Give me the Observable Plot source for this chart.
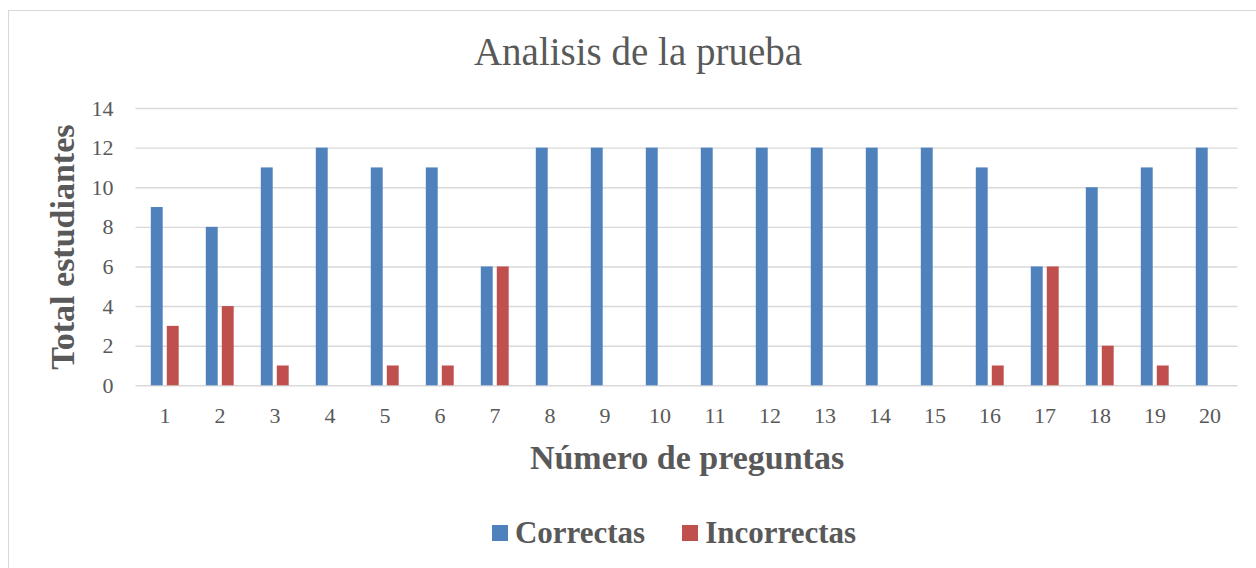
<!DOCTYPE html>
<html>
<head>
<meta charset="utf-8">
<script src="https://cdn.jsdelivr.net/npm/d3@7"></script>
<script src="https://cdn.jsdelivr.net/npm/@observablehq/plot@0.6"></script>
<style>
  html, body { margin: 0; padding: 0; background: #fff; }
  body { width: 1256px; height: 568px; overflow: hidden; position: relative; font-family: "Liberation Serif", serif; color: #595959; }
  #frame { position: absolute; left: 8px; top: 10px; width: 1300px; height: 600px; border: 1px solid #d9d9d9; box-sizing: border-box; pointer-events: none; }
  #title { box-sizing: border-box; height: 90px; padding-top: 32px; width: 1276px; text-align: center; font-size: 39px; line-height: 39px; white-space: nowrap; }
  #chart { height: 390px; }
  #chart svg { display: block; }
  #legend { margin-top: 38px; height: 30px; width: 1348px; display: flex; justify-content: center; align-items: center; font-weight: bold; font-size: 31px; line-height: 30px; white-space: nowrap; }
  .sw { width: 16px; height: 16px; display: inline-block; margin-right: 7px; }
  .item { display: flex; align-items: center; }
  .item + .item { margin-left: 37px; }
</style>
</head>
<body>
<div id="frame"></div>
<div id="title">Analisis de la prueba</div>
<div id="chart"></div>
<div id="legend"></div>
<script>
// ---- data ----
const preguntas = ["1","2","3","4","5","6","7","8","9","10","11","12","13","14","15","16","17","18","19","20"];
const correctas = [9, 8, 11, 12, 11, 11, 6, 12, 12, 12, 12, 12, 12, 12, 12, 11, 6, 10, 11, 12];
const incorrectas = [3, 4, 1, 0, 1, 1, 6, 0, 0, 0, 0, 0, 0, 0, 0, 1, 6, 2, 1, 0];
const yTicks = [0, 2, 4, 6, 8, 10, 12, 14];
const series = ["Correctas", "Incorrectas"];
const colors = ["#4f81bd", "#c0504d"];
const xLabel = "Número de preguntas";
const yLabel = "Total estudiantes";

const font = "Liberation Serif";

const plot = Plot.plot({
  width: 1256,
  height: 390,
  marginTop: 18,
  marginBottom: 94.7,
  marginLeft: 135.5,
  marginRight: 18.5,
  style: { fontFamily: font, fontSize: "22px", color: "#595959", background: "transparent" },
  x: { type: "band", domain: preguntas, padding: 0, label: null, tickSize: 0, tickPadding: 22 },
  y: { domain: [0, 14], ticks: yTicks, label: null, tickSize: 0, tickPadding: 22.5 },
  marks: [
    Plot.ruleY(yTicks, { stroke: "#d9d9d9", strokeWidth: 1.4 }),
    Plot.barY(preguntas, { x: d => d, y: (d, i) => correctas[i], fill: colors[0], insetLeft: 13.8, insetRight: 29.3 }),
    Plot.barY(preguntas, { x: d => d, y: (d, i) => incorrectas[i], fill: colors[1], insetLeft: 29.8, insetRight: 13.3 }),
    Plot.text([xLabel], { frameAnchor: "bottom", lineAnchor: "bottom", textAnchor: "middle", dy: 83, text: d => d, fontSize: 34, fontWeight: "bold", fontFamily: font, fill: "#595959" }),
    Plot.text([yLabel], { frameAnchor: "left", lineAnchor: "bottom", textAnchor: "middle", rotate: -90, dx: -62.5, text: d => d, fontSize: 34, fontWeight: "bold", fontFamily: font, fill: "#595959" })
  ]
});
document.getElementById("chart").appendChild(plot);

const legend = document.getElementById("legend");
series.forEach((s, i) => {
  const item = document.createElement("div");
  item.className = "item";
  const sw = document.createElement("span");
  sw.className = "sw";
  sw.style.background = colors[i];
  const t = document.createElement("span");
  t.textContent = s;
  item.appendChild(sw);
  item.appendChild(t);
  legend.appendChild(item);
});
</script>
</body>
</html>
